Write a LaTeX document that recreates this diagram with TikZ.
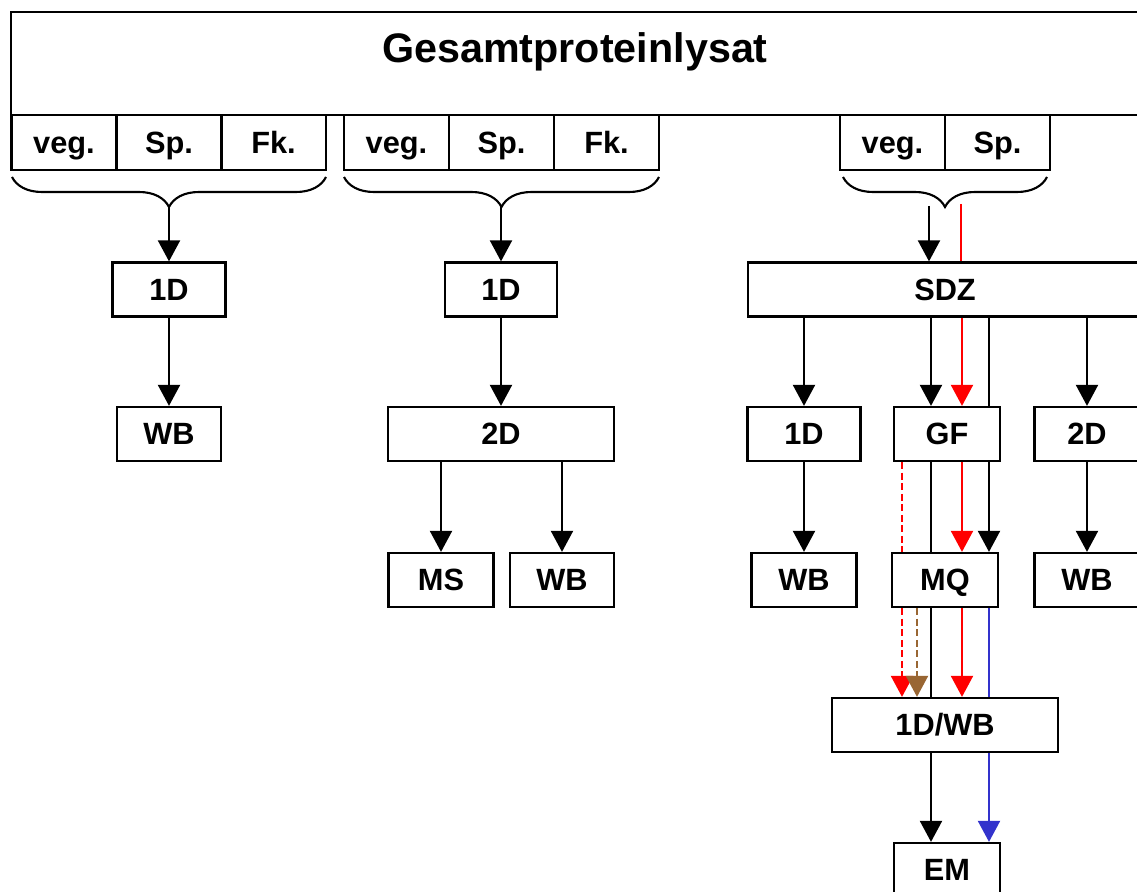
\documentclass[tikz,border=0pt]{standalone}
\usepackage{fontspec}
\setmainfont{Liberation Sans}
\usepackage{xcolor}
\definecolor{laneRed}{HTML}{FF0000}
\definecolor{laneBrown}{HTML}{996633}
\definecolor{laneBlue}{HTML}{3333CC}
\usetikzlibrary{arrows.meta,decorations.pathreplacing}

\tikzset{
  box/.style={draw, line width=1.3pt, minimum height=1.08cm, inner sep=0pt,
    text height=12.5pt, text depth=0pt,
    font=\fontsize{17.5}{20}\selectfont\bfseries},
  subbox/.style={box, minimum width=2.1cm, minimum height=1.1cm},
  titel/.style={inner sep=0pt, text height=16.8pt, text depth=0pt,
    font=\fontsize{23.5}{27}\selectfont\bfseries},
  linie/.style={line width=1.2pt},
  pfeil/.style={linie, -{Triangle[length=0.42cm,width=0.44cm]}},
  gestrichelt/.style={dash pattern=on 4pt off 2pt},
  klammer/.style={linie, decorate, decoration={brace, mirror, amplitude=0.6cm}},
}

\begin{document}
\begin{tikzpicture}[x=0.02cm, y=-0.02cm]
  \useasboundingbox (0,0) rectangle (1137,892);
  \clip (0,0) rectangle (1137,892);

  % Gesamtproteinlysat
  \node[draw, line width=1.3pt, minimum width=22.98cm, minimum height=2.06cm] (lysat) at (585.5,63.5) {};
  \node[titel] (lysatText) at (575,47.5) {Gesamtproteinlysat};

  % Fraktionen
  \node[subbox] (vegA) at (64,142.5) {veg.};
  \node[subbox] (spA) at (169,142.5) {Sp.};
  \node[subbox] (fkA) at (273.5,142.5) {Fk.};
  \node[subbox] (vegB) at (396.5,142.5) {veg.};
  \node[subbox] (spB) at (501.5,142.5) {Sp.};
  \node[subbox] (fkB) at (606.5,142.5) {Fk.};
  \node[subbox] (vegC) at (892.5,142.5) {veg.};
  \node[subbox] (spC) at (997.5,142.5) {Sp.};

  \draw[klammer] (12,177) -- (326,177);
  \draw[klammer] (344,177) -- (659,177);
  \draw[klammer] (843,177) -- (1047,177);
  \coordinate (tipA) at (169,207);
  \coordinate (tipB) at (501,207);
  \coordinate (startSchwarz) at (929,206);
  \coordinate (startRot) at (961,204);

  % Spuren
  \coordinate (spurRD) at (902,0);
  \coordinate (spurBr) at (917,0);
  \coordinate (spurS) at (931,0);
  \coordinate (spurR) at (962,0);
  \coordinate (spurB) at (989,0);

  % erste Gruppe
  \node[box, minimum width=2.26cm] (oneDa) at (169,289.5) {1D};
  \node[box, minimum width=2.08cm] (wbA) at (169,434) {WB};
  \draw[pfeil] (tipA) -- (tipA |- oneDa.north);
  \draw[pfeil] (oneDa.south -| tipA) -- (wbA.north -| tipA);

  % zweite Gruppe
  \node[box, minimum width=2.24cm] (oneDb) at (501,289.5) {1D};
  \node[box, minimum width=4.52cm] (twoDb) at (501,434) {2D};
  \node[box, minimum width=2.1cm] (ms) at (441,580) {MS};
  \node[box, minimum width=2.08cm] (wbB) at (562,580) {WB};
  \draw[pfeil] (tipB) -- (tipB |- oneDb.north);
  \draw[pfeil] (oneDb) -- (twoDb);
  \draw[pfeil] (twoDb.south -| ms) -- (ms);
  \draw[pfeil] (twoDb.south -| wbB) -- (wbB);

  % dritte Gruppe
  \node[box, minimum width=7.88cm] (sdz) at (945,289.5) {SDZ};
  \node[box, minimum width=2.26cm] (oneDc) at (804,434) {1D};
  \node[box, minimum width=2.12cm] (gf) at (947,434) {GF};
  \node[box, minimum width=2.1cm] (twoDc) at (1087,434) {2D};
  \node[box, minimum width=2.1cm] (wbC) at (804,580) {WB};
  \node[box, minimum width=2.12cm] (mq) at (945,580) {MQ};
  \node[box, minimum width=2.1cm] (wbD) at (1087,580) {WB};
  \node[box, minimum width=4.52cm] (onedwb) at (945,725) {1D/WB};
  \node[box, minimum width=2.12cm] (em) at (947,870) {EM};

  \draw[pfeil] (startSchwarz) -- (startSchwarz |- sdz.north);
  \draw[linie, laneRed] (startRot) -- (startRot |- sdz.north);

  \draw[pfeil] (sdz.south -| oneDc) -- (oneDc);
  \draw[pfeil] (sdz.south -| spurS) -- (gf.north -| spurS);
  \draw[pfeil, laneRed] (sdz.south -| spurR) -- (gf.north -| spurR);
  \draw[linie] (sdz.south -| spurB) -- (gf.north -| spurB);
  \draw[pfeil] (sdz.south -| twoDc) -- (twoDc);

  \draw[pfeil] (oneDc) -- (wbC);
  \draw[pfeil] (twoDc) -- (wbD);

  \draw[linie, laneRed, gestrichelt] (gf.south -| spurRD) -- (mq.north -| spurRD);
  \draw[linie] (gf.south -| spurS) -- (mq.north -| spurS);
  \draw[pfeil, laneRed] (gf.south -| spurR) -- (mq.north -| spurR);
  \draw[pfeil] (gf.south -| spurB) -- (mq.north -| spurB);

  \draw[pfeil, laneRed, gestrichelt] (mq.south -| spurRD) -- (onedwb.north -| spurRD);
  \draw[pfeil, laneBrown, gestrichelt] (mq.south -| spurBr) -- (onedwb.north -| spurBr);
  \draw[linie] (mq.south -| spurS) -- (onedwb.north -| spurS);
  \draw[pfeil, laneRed] (mq.south -| spurR) -- (onedwb.north -| spurR);
  \draw[linie, laneBlue] (mq.south -| spurB) -- (onedwb.north -| spurB);

  \draw[pfeil] (onedwb.south -| spurS) -- (em.north -| spurS);
  \draw[pfeil, laneBlue] (onedwb.south -| spurB) -- (em.north -| spurB);
\end{tikzpicture}
\end{document}
